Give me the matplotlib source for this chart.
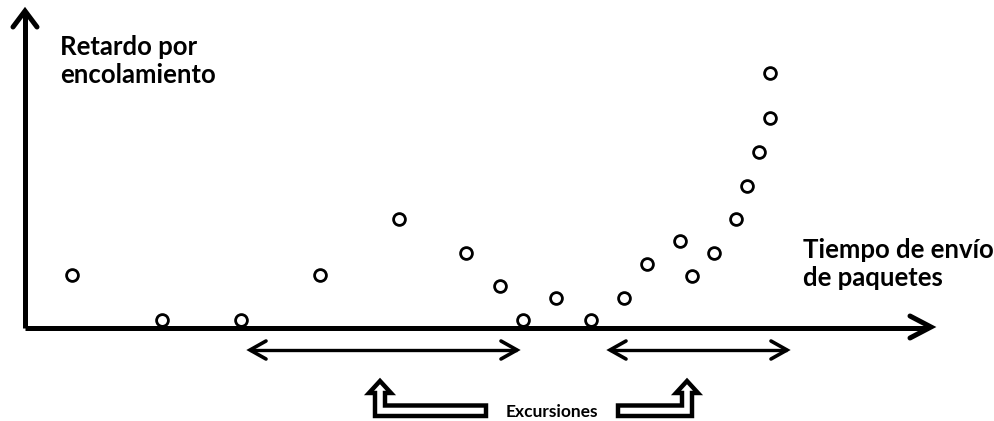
import matplotlib
matplotlib.use("Agg")
import matplotlib.pyplot as plt
from matplotlib.patches import Polygon

# ---- data (time of sending, queueing delay) ----
send_time = [47, 137, 216, 295, 374, 441, 475, 498, 531, 566,
             599, 622, 655, 667, 689, 711, 722, 734, 745, 745]
queue_delay = [53, 8, 8, 53, 109, 75, 42, 8, 30, 8,
               30, 64, 87, 52, 75, 109, 142, 176, 210, 255]

y_label = "Retardo por\nencolamiento"
x_label = "Tiempo de envío\nde paquetes"
excursion_label = "Excursiones"
# excursion intervals (start, end) in time units
excursions = [(225, 492), (585, 762)]

W, H = 995, 421
X0, Y0 = 25, 328  # pixel position of origin


def P(px, py):
    """pixel -> data coords for decoration geometry"""
    return px - X0, Y0 - py


fig = plt.figure(figsize=(W / 100, H / 100), dpi=100)
ax = fig.add_axes([0, 0, 1, 1])
ax.set_xlim(-X0, W - X0)
ax.set_ylim(Y0 - H, Y0)
ax.axis("off")

lw_axis = 3.6
# axes lines
ax.plot([0, 0], [0, P(0, 13)[1]], color="black", lw=lw_axis, solid_capstyle="butt")
ax.plot([0, P(928, 0)[0]], [0, 0], color="black", lw=lw_axis, solid_capstyle="butt")
# arrow chevrons
tx, ty = P(25, 11)
ax.plot([tx - 12, tx, tx + 12], [ty - 16, ty, ty - 16], color="black", lw=lw_axis,
        solid_joinstyle="miter", solid_capstyle="round")
tx, ty = P(931, 327)
ax.plot([tx - 21, tx, tx - 21], [ty + 11, ty, ty - 11], color="black", lw=lw_axis,
        solid_joinstyle="miter", solid_capstyle="round")

# data points
ax.plot(send_time, queue_delay, linestyle="none", marker="o", markersize=8.5,
        markerfacecolor="white", markeredgecolor="black", markeredgewidth=2.0, zorder=5)

# excursion double arrows
ya = P(0, 350)[1]
for a, b in excursions:
    ax.plot([a, b], [ya, ya], color="black", lw=2.4, solid_capstyle="butt")
    for tip, d in ((a, 1), (b, -1)):
        ax.plot([tip + d * 16, tip, tip + d * 16], [ya + 9, ya, ya - 9], color="black",
                lw=2.6, solid_joinstyle="miter", solid_capstyle="round")

# hollow bent arrows
def hollow_arrow(xc, xend):
    # xc: center of vertical part; xend: far end of horizontal bar (pixels)
    s = 1 if xend > xc else -1
    pts = [
        (xend, 416), (xc - s * 5, 416), (xc - s * 5, 393), (xc - s * 11, 393),
        (xc, 381), (xc + s * 11, 393), (xc + s * 5, 393), (xc + s * 5, 405.5),
        (xend, 405.5),
    ]
    poly = Polygon([P(*p) for p in pts], closed=True, facecolor="white",
                   edgecolor="black", lw=3.2, joinstyle="miter")
    ax.add_patch(poly)

hollow_arrow(380, 486)
hollow_arrow(687, 618)

# texts
ax.text(*P(60, 35), y_label, fontsize=18.5, fontweight="bold", family="Lato",
        ha="left", va="top", linespacing=1.22)
ax.text(*P(803, 238), x_label, fontsize=18.5, fontweight="bold", family="Lato",
        ha="left", va="top", linespacing=1.22)
ax.text(*P(552, 412), excursion_label, fontsize=12.5, fontweight="bold", family="Lato",
        ha="center", va="center")

fig.savefig("out.png", dpi=100)
